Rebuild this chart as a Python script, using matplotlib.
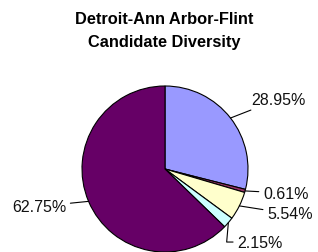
import numpy as np
import matplotlib.pyplot as plt

# slice shares (clockwise from 12 o'clock)
labels = ['28.95%', '0.61%', '5.54%', '2.15%', '62.75%']
shares = [28.95, 0.61, 5.54, 2.15, 62.75]
colors = ['#9999FF', '#993366', '#FFFFCC', '#CCFFFF', '#660066']

# label text anchor (data units, pie radius = 1), alignment and leader shape
text_pos = [(1.04, 0.84), (1.18, -0.29), (1.23, -0.54), (0.87, -0.88), (-1.19, -0.45)]
text_ha = ['left', 'left', 'left', 'left', 'right']
leader = ['arc3', 'arc3', 'arc3', 'angle,angleA=0,angleB=85,rad=0', 'arc3']

W, H = 318, 253
cx, cy, r = 165, 170, 83  # pie centre / radius in pixels

fig = plt.figure(figsize=(W / 100, H / 100), dpi=100)
ax = fig.add_axes([0, 0, 1, 1])

wedges, _ = ax.pie(shares, colors=colors, startangle=90, counterclock=False,
                   radius=1, wedgeprops=dict(edgecolor='black', linewidth=0.8))

ax.set_aspect('auto')
ax.set_xlim(-cx / r, (W - cx) / r)
ax.set_ylim(-(H - cy) / r, cy / r)
ax.axis('off')

for w, lab, pos, ha, cs in zip(wedges, labels, text_pos, text_ha, leader):
    ang = np.deg2rad((w.theta1 + w.theta2) / 2)
    edge = (np.cos(ang), np.sin(ang))
    ax.annotate(lab, xy=edge, xytext=pos, ha=ha, va='center',
                fontsize=11.5, family='Liberation Sans', color='#111111',
                arrowprops=dict(arrowstyle='-', color='black', lw=0.8,
                                shrinkA=1, shrinkB=0, connectionstyle=cs))

fig.text(164 / W, 1 - 20 / H, 'Detroit-Ann Arbor-Flint', ha='center', va='center',
         fontsize=11.8, fontweight='bold', family='Liberation Sans')
fig.text(164 / W, 1 - 42 / H, 'Candidate Diversity', ha='center', va='center',
         fontsize=11.8, fontweight='bold', family='Liberation Sans')

fig.savefig('out.png', dpi=100)
